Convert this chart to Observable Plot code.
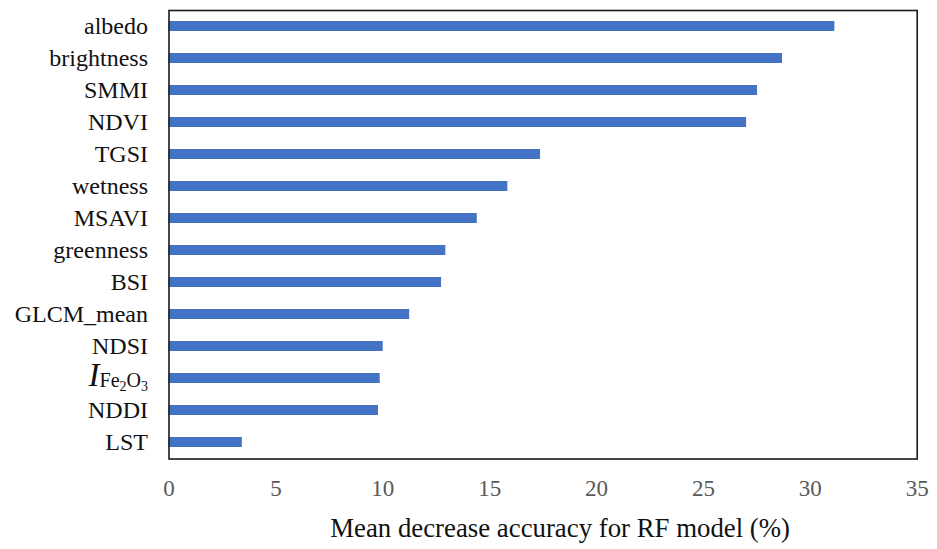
<!DOCTYPE html>
<html>
<head>
<meta charset="utf-8">
<script src="https://cdn.jsdelivr.net/npm/d3@7"></script>
<script src="https://cdn.jsdelivr.net/npm/@observablehq/plot@0.6"></script>
<style>
  html, body { margin: 0; padding: 0; background: #fff; }
  #chart svg { display: block; }
</style>
</head>
<body>
<div id="chart"></div>
<script>
const categories = ["albedo", "brightness", "SMMI", "NDVI", "TGSI", "wetness", "MSAVI", "greenness", "BSI", "GLCM_mean", "NDSI", "IFe2O3", "NDDI", "LST"];
const values = [31.15, 28.70, 27.53, 27.02, 17.38, 15.85, 14.42, 12.95, 12.75, 11.26, 10.02, 9.88, 9.80, 3.43];
const xTicks = [0, 5, 10, 15, 20, 25, 30, 35];
const xLabel = "Mean decrease accuracy for RF model (%)";

const data = categories.map((c, i) => ({name: c, value: values[i]}));

const chart = Plot.plot({
  width: 937,
  height: 549,
  marginLeft: 168.5,
  marginRight: 20.3,
  marginTop: 10,
  marginBottom: 90.5,
  style: {fontFamily: "'Liberation Serif', 'DejaVu Serif', serif", background: "#fff"},
  x: {domain: [0, 35], ticks: xTicks, tickSize: 0, label: null},
  y: {domain: categories, paddingInner: 0.69, paddingOuter: 0.345, tickSize: 0, label: null},
  marks: [
    Plot.barX(data, {x: "value", y: "name", fill: "#4472C4"}),
    Plot.frame({stroke: "#1a1a1a", strokeWidth: 1.6}),
    Plot.axisX({ticks: xTicks, tickSize: 0, tickPadding: 21, fontSize: 23, fill: "#595959", label: null}),
    Plot.axisY({tickSize: 0, tickPadding: 21, fontSize: 24, fill: "#111", label: null}),
    Plot.text([xLabel], {frameAnchor: "bottom", dx: 17, dy: 78, fontSize: 26.8, fill: "#111", text: d => d})
  ]
});

document.getElementById("chart").appendChild(chart);

// Render the IFe2O3 label with italic I and subscripts
d3.select(chart).selectAll("text").each(function() {
  const t = d3.select(this);
  if (t.text() === "IFe2O3") {
    t.text("");
    t.append("tspan").attr("font-style", "italic").attr("font-size", 33).text("I");
    t.append("tspan").attr("font-size", 20).attr("dy", 1).text("Fe");
    t.append("tspan").attr("font-size", 14).attr("dy", 4).text("2");
    t.append("tspan").attr("font-size", 20).attr("dy", -4).text("O");
    t.append("tspan").attr("font-size", 14).attr("dy", 4).text("3");
  }
});
</script>
</body>
</html>
